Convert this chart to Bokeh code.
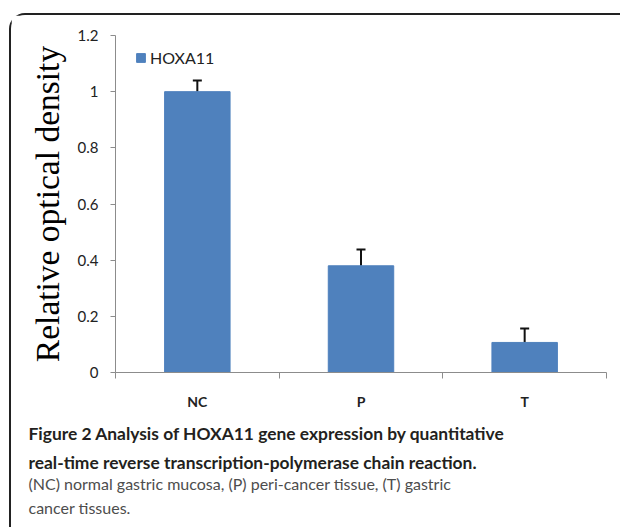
from bokeh.plotting import figure
from bokeh.models import (ColumnDataSource, Whisker, TeeHead, FixedTicker, Title,
                          Range1d)
from bokeh.embed import file_html
from bokeh.resources import INLINE

# ---- data ----
categories = ["NC", "P", "T"]
values = [1.0, 0.38, 0.107]
errors = [0.04, 0.058, 0.05]
series_name = "HOXA11"
y_ticks = [0, 0.2, 0.4, 0.6, 0.8, 1.0, 1.2]
y_tick_labels = ["0", "0.2", "0.4", "0.6", "0.8", "1", "1.2"]
y_title = "Relative optical density"
caption_title = ["Figure 2 Analysis of HOXA11 gene expression by quantitative",
                 "real-time reverse transcription-polymerase chain reaction."]
caption_body = ["(NC) normal gastric mucosa, (P) peri-cancer tissue, (T) gastric",
                "cancer tissues."]

xs = [i + 0.5 for i in range(len(categories))]
src = ColumnDataSource(dict(
    x=xs, top=values, upper=[v + e for v, e in zip(values, errors)]))

W, H = 611, 514
p = figure(width=W, height=H, output_backend="svg", toolbar_location=None,
           x_range=Range1d(0, len(categories)), y_range=Range1d(0, 1.2),
           min_border_left=104, min_border_right=16, min_border_top=20,
           min_border_bottom=157)
p.outline_line_color = None
p.grid.visible = False
p.background_fill_color = "white"
p.border_fill_color = "white"
p.margin = (13, 0, 0, 9)
p.styles = {"border-top": "2px solid #222222", "border-left": "2px solid #222222",
            "border-top-left-radius": "16px"}

bar_color = "#4f81bd"
p.vbar(x="x", top="top", width=0.4, source=src, fill_color=bar_color,
       line_color=bar_color, legend_label=series_name)

wh = Whisker(base="x", upper="upper", lower="top", source=src,
             upper_head=TeeHead(size=9, line_color="#111111", line_width=2),
             lower_head=None, line_color="#111111", line_width=2)
p.add_layout(wh)

axis_color = "#8c8c8c"
# y axis
ya = p.yaxis[0]
ya.ticker = FixedTicker(ticks=y_ticks)
ya.major_label_overrides = {t: l for t, l in zip(y_ticks, y_tick_labels)}
ya.minor_tick_line_color = None
ya.major_tick_in = 0
ya.major_tick_out = 5
ya.axis_line_color = axis_color
ya.major_tick_line_color = axis_color
ya.major_label_standoff = 12
ya.major_label_text_font = "Lato"
ya.major_label_text_font_size = "15px"
ya.major_label_text_color = "#222222"
ya.axis_label = y_title
ya.axis_label_text_font = "Liberation Serif"
ya.axis_label_text_font_style = "normal"
ya.axis_label_text_font_size = "33.5px"
ya.axis_label_text_color = "#000000"
ya.axis_label_standoff = 9

# x axis: labels at centers, ticks at boundaries
xa = p.xaxis[0]
xa.ticker = FixedTicker(ticks=xs, minor_ticks=list(range(len(categories) + 1)))
xa.major_label_overrides = {x: c for x, c in zip(xs, categories)}
xa.major_tick_in = 0
xa.major_tick_out = 0
xa.minor_tick_in = 0
xa.minor_tick_out = 6
xa.axis_line_color = axis_color
xa.minor_tick_line_color = axis_color
xa.major_label_standoff = 14
xa.major_label_text_font = "Lato"
xa.major_label_text_font_style = "bold"
xa.major_label_text_font_size = "14px"
xa.major_label_text_color = "#222222"

# legend
lg = p.legend[0]
lg.location = (20, 337 - 21 - 11)
lg.border_line_color = None
lg.background_fill_alpha = 0
lg.padding = 0
lg.margin = 0
lg.glyph_width = 11
lg.glyph_height = 11
lg.label_height = 11
lg.label_standoff = 4
lg.label_text_font = "Lato"
lg.label_text_font_size = "16px"
lg.label_text_color = "#222222"
lg.label_text_baseline = "middle"

# caption (stacked titles below the axis)
cap_offset = -87
standoffs = [17, -5, 3, 2]
lines = caption_title + caption_body
for i, line in enumerate(lines):
    bold = i < len(caption_title)
    t = Title(text=line, align="left", offset=cap_offset, standoff=standoffs[i],
              text_font="Lato", text_font_style="bold" if bold else "normal",
              text_font_size="17.4px" if bold else "16px",
              text_color="#231f20" if bold else "#4d4d4d")
    p.add_layout(t, "below")

open("out.html", "w").write(file_html(p, INLINE))
